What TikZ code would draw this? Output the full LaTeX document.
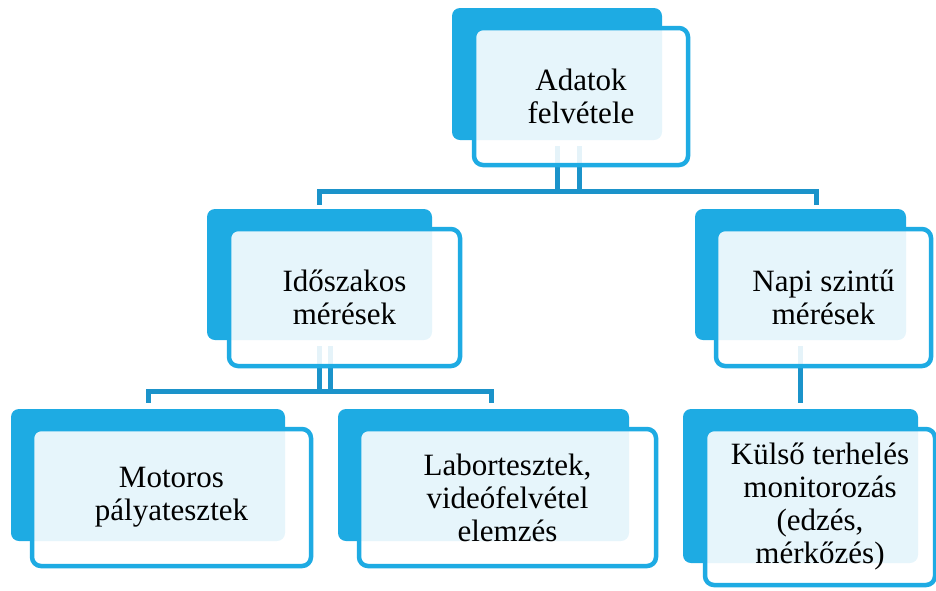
\documentclass[tikz,border=0pt]{standalone}
\usepackage{fontspec}
\setmainfont{Liberation Serif}
\newfontfamily\labelfont{Liberation Serif}
\usetikzlibrary{calc}

\definecolor{boxblue}{HTML}{1EABE3}
\definecolor{linkblue}{HTML}{1B93CA}

\tikzset{
  backbox/.style={fill=boxblue, draw=none, rounded corners=8pt, inner sep=0pt},
  frontbox/.style={draw=boxblue, line width=4.5pt, fill=white, fill opacity=0.89,
    text opacity=1, rounded corners=9pt, inner sep=0pt, align=center,
    font=\labelfont\fontsize{31}{33}\selectfont},
  conn/.style={draw=linkblue, line width=5pt, line join=miter},
}

\begin{document}
\begin{tikzpicture}[x=1pt,y=-1pt]
\path[use as bounding box, clip] (0,0) rectangle (936,590);

% back plates (named so the connectors can attach to them)
\node[backbox, minimum width=210pt, minimum height=132pt] (adatokB) at (557,74) {};
\node[backbox, minimum width=225pt, minimum height=131pt] (idoB) at (319.5,274.5) {};
\node[backbox, minimum width=211pt, minimum height=131pt] (napiB) at (800.5,274.5) {};
\node[backbox, minimum width=274pt, minimum height=132pt] (motB) at (148,475) {};
\node[backbox, minimum width=291pt, minimum height=132pt] (labB) at (483.5,475) {};
\node[backbox, minimum width=235pt, minimum height=154pt] (kulsoB) at (800.5,486) {};

% horizontal bus levels
\coordinate (bus1) at (0,191);
\coordinate (bus2) at (0,391.5);

% connectors (drawn before the front boxes so they show faintly through them)
\draw[conn] ([xshift=22pt,yshift=-6pt]adatokB.south) |- (bus1 -| idoB.north)
  -- ([yshift=4pt]idoB.north);
\draw[conn] ([yshift=-6pt]adatokB.south) |- (bus1 -| {$(napiB.north)+(15.5,0)$})
  -- ([xshift=15.5pt,yshift=4pt]napiB.north);
\draw[conn] ([xshift=11pt,yshift=-6pt]idoB.south) |- (bus2 -| motB.north)
  -- ([yshift=6pt]motB.north);
\draw[conn] ([yshift=-6pt]idoB.south) |- (bus2 -| {$(labB.north)+(8,0)$})
  -- ([xshift=8pt,yshift=6pt]labB.north);
\draw[conn] ([yshift=-6pt]napiB.south) -- ([yshift=6pt]kulsoB.north);

% front boxes with the labels
\node[frontbox, minimum width=214pt, minimum height=137pt] (adatok) at (581,96.5)
  {Adatok\\felvétele};
\node[frontbox, minimum width=231pt, minimum height=137pt] (ido) at (344.5,297.5)
  {Időszakos\\mérések};
\node[frontbox, minimum width=215pt, minimum height=137pt] (napi) at (823.5,297.5)
  {Napi szintű\\mérések};
\node[frontbox, minimum width=279pt, minimum height=137pt] (mot) at (171.5,497.5)
  {Motoros\\pályatesztek};
\node[frontbox, minimum width=297pt, minimum height=137pt] (lab) at (507.5,497.5)
  {Labortesztek,\\videófelvétel\\elemzés};
\node[frontbox, minimum width=230pt, minimum height=156pt] (kulso) at (820,507)
  {Külső terhelés\\monitorozás\\(edzés,\\mérkőzés)};
\end{tikzpicture}
\end{document}
